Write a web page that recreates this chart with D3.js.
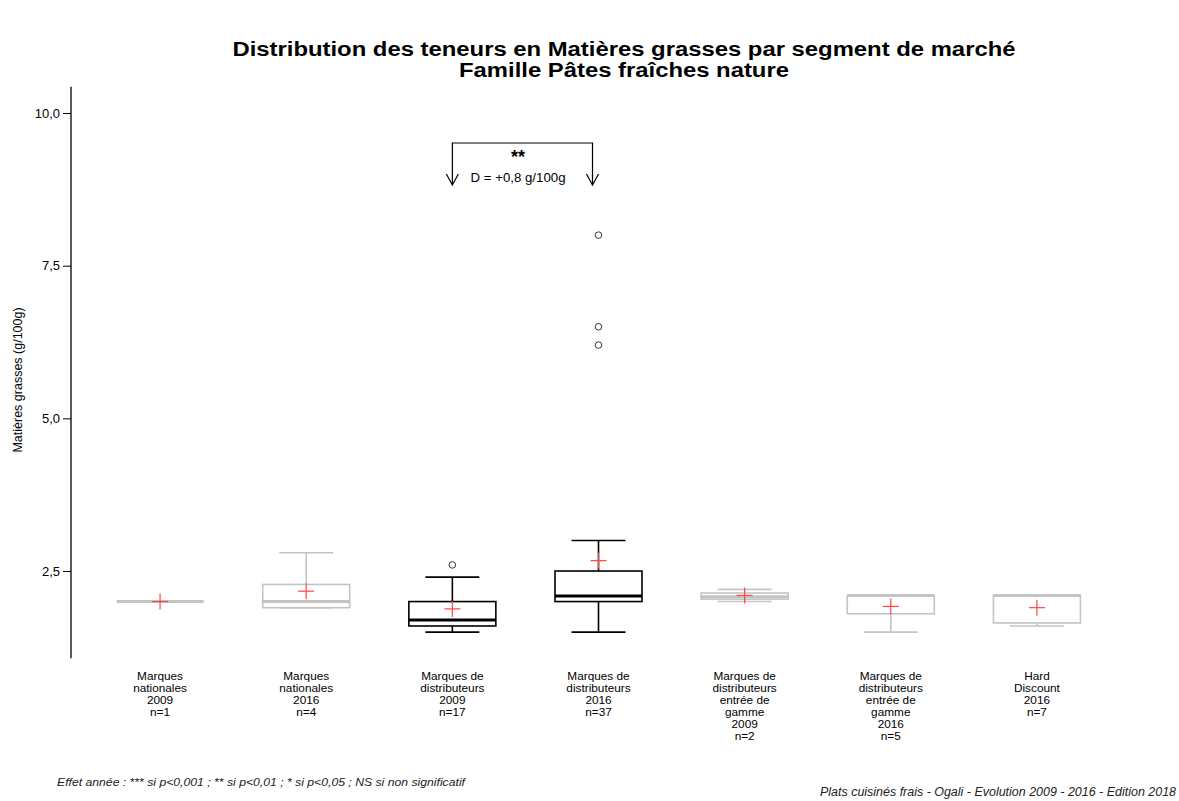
<!DOCTYPE html>
<html><head><meta charset="utf-8">
<script src="https://cdn.jsdelivr.net/npm/d3@7"></script>
<style>body{margin:0;background:#fff;} text{font-family:"Liberation Sans",Arial,sans-serif;}</style>
</head><body>
<svg id="c" width="1179" height="801"></svg>
<script>
const categories = [
  ["Marques","nationales","2009","n=1"],
  ["Marques","nationales","2016","n=4"],
  ["Marques de","distributeurs","2009","n=17"],
  ["Marques de","distributeurs","2016","n=37"],
  ["Marques de","distributeurs","entrée de","gamme","2009","n=2"],
  ["Marques de","distributeurs","entrée de","gamme","2016","n=5"],
  ["Hard","Discount","2016","n=7"]
];
const lowWhisker = [2.0, 1.9, 1.5, 1.5, 2.0, 1.5, 1.6];
const q1Values   = [2.0, 1.9, 1.6, 2.0, 2.04, 1.8, 1.65];
const medians    = [2.0, 2.0, 1.7, 2.09, 2.08, 2.1, 2.1];
const q3Values   = [2.0, 2.28, 2.0, 2.5, 2.14, 2.1, 2.1];
const highWhisker= [2.0, 2.8, 2.4, 3.0, 2.2, 2.1, 2.1];
const means      = [2.0, 2.17, 1.88, 2.67, 2.1, 1.92, 1.9];
const outliers   = [[], [], [2.6], [8.0, 6.5, 6.2], [], [], []];
const significant= [false, false, true, true, false, false, false];
const yTicks = [2.5, 5.0, 7.5, 10.0];
const yAxisRange = [1.07, 10.43];

const svg = d3.select("#c");
const y = d3.scaleLinear().domain([0, 10]).range([723.7, 113]);
const x = d3.scaleBand().domain(d3.range(categories.length)).range([87, 1110]).paddingInner(0.4).paddingOuter(0.2);
const bw = 87;
const cx = i => x(i) + x.bandwidth()/2;

function fitWidth(sel, w) { sel.attr("textLength", w).attr("lengthAdjust", "spacingAndGlyphs"); return sel; }

// title
const t1 = svg.append("text").attr("x", 624).attr("y", 56).attr("text-anchor","middle")
  .attr("font-size", 20).attr("font-weight","bold").text("Distribution des teneurs en Matières grasses par segment de marché");
const t2 = svg.append("text").attr("x", 624).attr("y", 77).attr("text-anchor","middle")
  .attr("font-size", 20).attr("font-weight","bold").text("Famille Pâtes fraîches nature");
const w1 = t1.node().getComputedTextLength();
const w2 = t2.node().getComputedTextLength();
const sc = 783 / w1;
fitWidth(t1, 783); fitWidth(t2, w2 * sc);

// y axis
const ax = svg.append("g").attr("transform","translate(71,0)")
  .call(d3.axisLeft(y).tickValues(yTicks).tickSize(8).tickPadding(3).tickFormat(d => d3.format(".1f")(d).replace(".", ",")));
ax.select(".domain").remove();
ax.selectAll("text").attr("font-size", 13).attr("font-family","Liberation Sans, Arial, sans-serif");
ax.selectAll("line").attr("stroke","#000");
svg.append("line").attr("x1",71).attr("x2",71).attr("y1",y(yAxisRange[0])).attr("y2",y(yAxisRange[1])).attr("stroke","#000").attr("stroke-width",1.3);
svg.append("text").attr("transform","translate(22,380) rotate(-90)").attr("text-anchor","middle")
  .attr("font-size", 12.5).text("Matières grasses (g/100g)");

// boxes
categories.forEach((cat, i) => {
  const c = cx(i);
  const col = significant[i] ? "#000" : "#c4c4c4";
  const g = svg.append("g");
  const cap = bw*0.62;
  g.append("line").attr("x1",c).attr("x2",c).attr("y1",y(q3Values[i])).attr("y2",y(highWhisker[i])).attr("stroke",col).attr("stroke-width",1.6);
  g.append("line").attr("x1",c).attr("x2",c).attr("y1",y(q1Values[i])).attr("y2",y(lowWhisker[i])).attr("stroke",col).attr("stroke-width",1.6);
  g.append("line").attr("x1",c-cap/2).attr("x2",c+cap/2).attr("y1",y(highWhisker[i])).attr("y2",y(highWhisker[i])).attr("stroke",col).attr("stroke-width",1.6);
  g.append("line").attr("x1",c-cap/2).attr("x2",c+cap/2).attr("y1",y(lowWhisker[i])).attr("y2",y(lowWhisker[i])).attr("stroke",col).attr("stroke-width",1.6);
  g.append("rect").attr("x",c-bw/2).attr("width",bw).attr("y",y(q3Values[i])).attr("height",Math.max(0,y(q1Values[i])-y(q3Values[i])))
    .attr("fill","#fff").attr("stroke",col).attr("stroke-width",1.6);
  g.append("line").attr("x1",c-bw/2).attr("x2",c+bw/2).attr("y1",y(medians[i])).attr("y2",y(medians[i])).attr("stroke",col).attr("stroke-width",3);
  outliers[i].forEach(v => g.append("circle").attr("cx",c).attr("cy",y(v)).attr("r",3.3).attr("fill","none").attr("stroke", significant[i] ? "#333" : "#aaa").attr("stroke-width",1));
  g.append("line").attr("x1",c-8).attr("x2",c+8).attr("y1",y(means[i])).attr("y2",y(means[i])).attr("stroke","#f44").attr("stroke-width",1.2);
  g.append("line").attr("x1",c).attr("x2",c).attr("y1",y(means[i])-8).attr("y2",y(means[i])+8).attr("stroke","#f44").attr("stroke-width",1.2);
  const t = svg.append("text").attr("text-anchor","middle").attr("font-size",11.8);
  cat.forEach((line, k) => t.append("tspan").attr("x", c).attr("y", 680 + k*11.9).text(line));
});

// significance bracket between groups 2 and 3
const bx1 = cx(2), bx2 = cx(3)-6, bTop = 143, bBot = 185;
svg.append("path").attr("d", `M${bx1},${bBot} L${bx1},${bTop} L${bx2},${bTop} L${bx2},${bBot}`).attr("fill","none").attr("stroke","#000").attr("stroke-width",1.2);
[bx1, bx2].forEach(bx => svg.append("path").attr("d", `M${bx-6},${bBot-11} L${bx},${bBot} L${bx+6},${bBot-11}`).attr("fill","none").attr("stroke","#000").attr("stroke-width",1.2));
svg.append("text").attr("x",518).attr("y",163).attr("text-anchor","middle").attr("font-size",18).attr("font-weight","bold").text("**");
fitWidth(svg.append("text").attr("x",518).attr("y",182).attr("text-anchor","middle").attr("font-size",12.5).text("D = +0,8 g/100g"), 95);

// footers
fitWidth(svg.append("text").attr("x",57).attr("y",786).attr("font-size",10.5).attr("font-style","italic").attr("fill","#222")
  .text("Effet année : *** si p<0,001 ; ** si p<0,01 ; * si p<0,05 ; NS si non significatif"), 408);
fitWidth(svg.append("text").attr("x",820).attr("y",796).attr("font-size",12).attr("font-style","italic").attr("fill","#222")
  .text("Plats cuisinés frais - Ogali - Evolution 2009 - 2016 - Edition 2018"), 356);
</script>
</body></html>
